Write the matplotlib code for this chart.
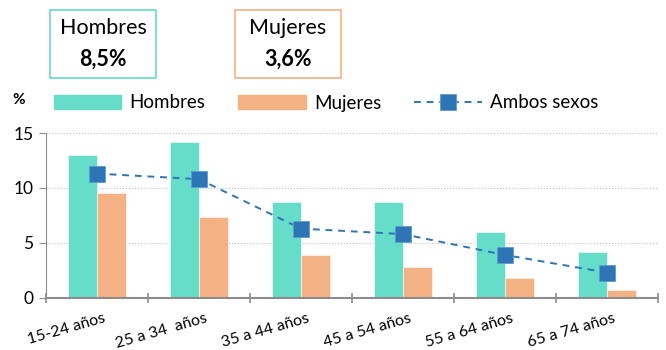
import numpy as np
import matplotlib.pyplot as plt
from matplotlib.patches import Patch, Rectangle
from matplotlib.lines import Line2D

plt.rcParams['font.family'] = ['Lato', 'DejaVu Sans']

grupos = ['15-24 años', '25 a 34  años', '35 a 44 años', '45 a 54 años', '55 a 64 años', '65 a 74 años']
hombres = [13.0, 14.2, 8.7, 8.7, 6.0, 4.2]
mujeres = [9.5, 7.4, 3.9, 2.8, 1.8, 0.7]
ambos = [11.3, 10.8, 6.3, 5.8, 3.9, 2.3]
tasa_hombres = '8,5%'
tasa_mujeres = '3,6%'

c_h = '#66DDC8'
c_m = '#F4B183'
c_a = '#2E75B6'

fig = plt.figure(figsize=(6.66, 3.5), dpi=100)
ax = fig.add_axes([0.069, 0.149, 0.919, 0.471])

x = np.arange(len(grupos))
w = 0.285
ax.bar(x - w / 2, hombres, w, color=c_h, edgecolor='#e8f9f5', linewidth=0.6, zorder=2)
ax.bar(x + w / 2, mujeres, w, color=c_m, edgecolor='#fdf0e6', linewidth=0.6, zorder=2)
ax.plot(x, ambos, color=c_a, ls=(0, (3.5, 3)), lw=1.4, marker='s', ms=11,
        markeredgecolor='#5b9bd5', markeredgewidth=0.6, zorder=3)

ax.set_xlim(-0.5, len(grupos) - 0.5)
ax.set_ylim(0, 15)
ax.set_yticks([0, 5, 10, 15])
ax.yaxis.grid(True, color='#bfbfbf', ls=':', lw=0.8, zorder=0)
for s in ['top', 'right']:
    ax.spines[s].set_visible(False)
ax.spines['left'].set_color('#8c8c8c')
ax.spines['bottom'].set_color('#8c8c8c')
ax.spines['bottom'].set_linewidth(1.5)
ax.tick_params(axis='y', length=5, color='#8c8c8c', labelsize=12.5, pad=4)

# ticks between categories, labels at the centres
ax.set_xticks(np.arange(-0.5, len(grupos)), minor=False)
ax.set_xticklabels([])
ax.tick_params(axis='x', which='major', length=7, direction='inout', color='#8c8c8c', width=1.2)
ax.set_xticks(x + 0.06, minor=True)
ax.set_xticklabels(grupos, minor=True, rotation=16, ha='right', rotation_mode='anchor', fontsize=11.5)
ax.tick_params(axis='x', which='minor', length=0, pad=10)

# boxes with the overall rates
for x0, col, titulo, valor in [(50, c_h, 'Hombres', tasa_hombres), (235, c_m, 'Mujeres', tasa_mujeres)]:
    fig.add_artist(Rectangle((x0 / 666, 1 - 78 / 350), 106 / 666, 68 / 350, transform=fig.transFigure,
                             facecolor='white', edgecolor=col, lw=1.2))
    fig.text((x0 + 53) / 666, 1 - 28 / 350, titulo, ha='center', va='center', fontsize=15.5)
    fig.text((x0 + 53) / 666, 1 - 59 / 350, valor, ha='center', va='center', fontsize=15.5, weight='bold')

fig.text(12 / 666, 1 - 100 / 350, '%', fontsize=11, weight='bold', va='center')

handles = [Patch(color=c_h), Patch(color=c_m),
           Line2D([], [], color=c_a, ls=(0, (3.5, 3)), lw=1.4, marker='s', ms=11,
                  markeredgecolor='#5b9bd5', markeredgewidth=0.6)]
fig.legend(handles, ['Hombres', 'Mujeres', 'Ambos sexos'], ncol=3, frameon=False,
           loc='center left', bbox_to_anchor=(46 / 666, 1 - 103 / 350), borderaxespad=0,
           fontsize=13.5, handlelength=3.6, handleheight=0.75, columnspacing=1.75, handletextpad=0.45)

fig.savefig('out.png', dpi=100)
